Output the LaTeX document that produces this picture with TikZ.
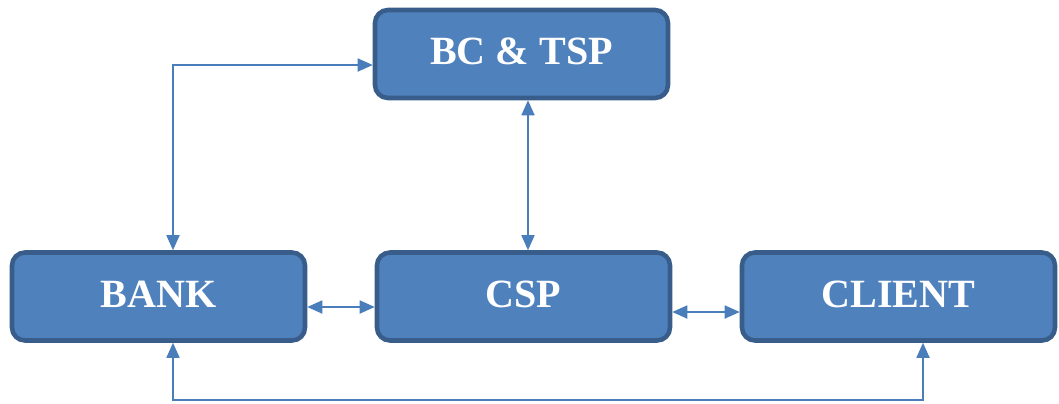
\documentclass[tikz,border=0pt]{standalone}
\usepackage{fontspec}
\setmainfont{Liberation Serif}
\usetikzlibrary{arrows.meta}
\definecolor{boxfill}{HTML}{4F81BD}
\definecolor{boxline}{HTML}{385D8A}
\definecolor{linkcol}{HTML}{4A7EBB}

\begin{document}
\begin{tikzpicture}
            \tikzstyle{box}=[draw=boxline, fill=boxfill, line width=1.3pt, rounded corners=0.13cm,
              minimum height=0.88cm, text=white, font=\fontsize{11.4}{13}\selectfont\bfseries]
            \tikzstyle{link}=[draw=linkcol, line width=0.5pt, {Triangle[length=1.5mm,width=1.3mm]}-{Triangle[length=1.5mm,width=1.3mm]}]
            \useasboundingbox (0,0) rectangle (10.59,4.03);
            \node [box, minimum width=2.93cm] (bctsp) at (5.215,3.49) {\raisebox{0.6mm}{BC \& TSP}};
            \node [box, minimum width=2.93cm] (bank) at (1.585,1.065) {\raisebox{0.4mm}{BANK}};
            \node [box, minimum width=2.93cm] (csp) at (5.235,1.065) {\raisebox{0.4mm}{CSP}};
            \node [box, minimum width=3.13cm] (client) at (8.985,1.065) {\raisebox{0.4mm}{CLIENT}};
            \coordinate (turn) at (1.73,3.38);
            \coordinate (vmid) at (5.28,2);
            \coordinate (lmid) at (3.4,0.96);
            \coordinate (rmid) at (7.06,0.91);
            \coordinate (low) at (1.73,0.03);
            \coordinate (lowend) at (9.23,0.03);
            \draw [link] (bctsp.west |- turn) -- (turn) -- (turn |- bank.north);
            \draw [link] (vmid |- bctsp.south) -- (vmid |- csp.north);
            \draw [link] (bank.east |- lmid) -- (csp.west |- lmid);
            \draw [link] (csp.east |- rmid) -- (client.west |- rmid);
            \draw [link] (low |- bank.south) -- (low) -- (lowend) -- (lowend |- client.south);
          \end{tikzpicture}
\end{document}
